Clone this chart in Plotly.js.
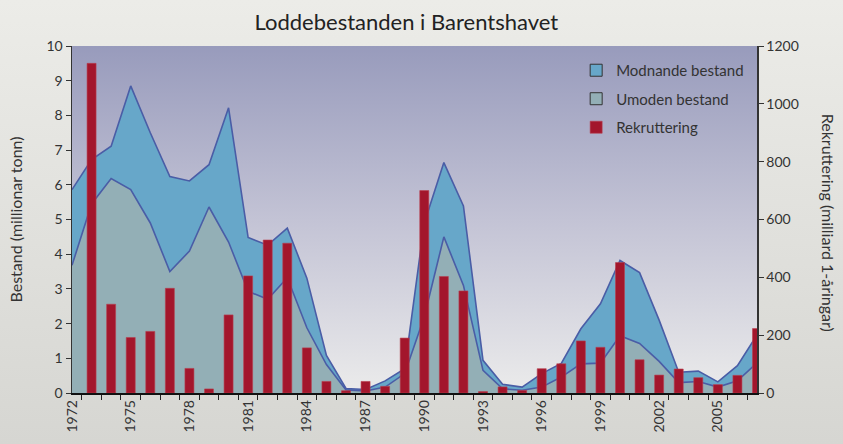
<!DOCTYPE html>
<html>
<head>
<meta charset="utf-8">
<script src="https://cdn.plot.ly/plotly-3.0.1.min.js"></script>
<style>
  html, body { margin: 0; padding: 0; }
  body { width: 843px; height: 444px; background: linear-gradient(#ecece8, #d6d6d2); overflow: hidden; }
  #chart { width: 843px; height: 444px; }
</style>
</head>
<body>
<div id="chart"></div>
<script>
// ---- data ----
const years = [1972,1973,1974,1975,1976,1977,1978,1979,1980,1981,1982,1983,1984,1985,1986,1987,1988,1989,
               1990,1991,1992,1993,1994,1995,1996,1997,1998,1999,2000,2001,2002,2003,2004,2005,2006,2007];
// Umoden bestand (million tonn)
const umoden = [3.68,5.45,6.18,5.86,4.90,3.50,4.09,5.36,4.35,2.93,2.70,3.32,1.88,0.82,0.09,0.06,0.17,0.56,
                2.20,4.50,3.10,0.65,0.12,0.08,0.17,0.46,0.84,0.86,1.65,1.43,0.91,0.30,0.33,0.17,0.35,0.87];
// Modnande bestand (million tonn), stacked on top of umoden
const modnande = [2.18,1.28,0.93,2.99,2.60,2.74,2.02,1.22,3.87,1.55,1.56,1.43,1.43,0.26,0.04,0.04,0.18,0.14,
                  2.70,2.14,2.29,0.29,0.13,0.09,0.39,0.39,1.01,1.71,2.17,2.04,1.19,0.30,0.30,0.15,0.44,0.80];
// Rekruttering (milliard 1-åringar)
const rekruttering = [null,1140,307,192,213,362,85,14,270,405,529,518,156,40,8,40,23,190,
                      700,403,353,5,21,9,84,101,180,158,451,115,62,83,53,29,61,223];
const xTickYears = [1972,1975,1978,1981,1984,1987,1990,1993,1996,1999,2002,2005];

const FONT = 'Lato, "Open Sans", sans-serif';
const lineCol = '#4a5da6';
const modCol = '#67a7c9';
const umoCol = '#93afb6';
const barCol = '#a3162c';

const traces = [
  { x: years, y: umoden, type: 'scatter', mode: 'lines', stackgroup: 'b', name: 'Umoden bestand',
    line: { color: lineCol, width: 1.6 }, fillcolor: umoCol, showlegend: false, hoverinfo: 'skip' },
  { x: years, y: modnande, type: 'scatter', mode: 'lines', stackgroup: 'b', name: 'Modnande bestand',
    line: { color: lineCol, width: 1.6 }, fillcolor: modCol, showlegend: false, hoverinfo: 'skip' },
  // legend proxies (no visible marks)
  { x: [null], y: [null], type: 'bar', yaxis: 'y2', name: 'Modnande bestand', legendgroup: 'a',
    marker: { color: modCol, line: { color: '#333', width: 1 } }, hoverinfo: 'skip' },
  { x: [null], y: [null], type: 'bar', yaxis: 'y2', name: 'Umoden bestand', legendgroup: 'b',
    marker: { color: umoCol, line: { color: '#333', width: 1 } }, hoverinfo: 'skip' },
  { x: years, y: rekruttering, type: 'bar', yaxis: 'y2', name: 'Rekruttering', legendgroup: 'c',
    width: 0.46, marker: { color: barCol, line: { color: '#b8404f', width: 0.6 } }, hoverinfo: 'skip' }
];

const gradSvg = '<svg xmlns="http://www.w3.org/2000/svg" width="100" height="100" preserveAspectRatio="none">' +
  '<defs><linearGradient id="g" x1="0" y1="0" x2="0" y2="1">' +
  '<stop offset="0" stop-color="#989bbc"/><stop offset="0.5" stop-color="#c3c3d5"/><stop offset="1" stop-color="#ebebeb"/>' +
  '</linearGradient></defs><rect width="100" height="100" fill="url(#g)"/></svg>';

const layout = {
  width: 843, height: 444,
  paper_bgcolor: 'rgba(0,0,0,0)',
  plot_bgcolor: 'rgba(0,0,0,0)',
  margin: { l: 72, r: 86, t: 46, b: 51, pad: 0 },
  font: { family: FONT, color: '#333', size: 13 },
  title: { text: 'Loddebestanden i Barentshavet', font: { family: FONT, size: 22, color: '#222' },
           x: 0.482, xref: 'container', xanchor: 'center', y: 0.95, yref: 'container', yanchor: 'middle' },
  barmode: 'overlay',
  showlegend: true,
  legend: { x: 0.736, y: 0.977, xanchor: 'left', yanchor: 'top', bgcolor: 'rgba(0,0,0,0)',
            font: { family: FONT, size: 15, color: '#333' }, traceorder: 'grouped', tracegroupgap: 6 },
  xaxis: {
    range: [1972, 2007], tickmode: 'array', tickvals: xTickYears, ticktext: xTickYears.map(String),
    tickangle: -90, ticks: '', showgrid: false, zeroline: false,
    showline: true, linecolor: '#111', linewidth: 1.5,
    tickfont: { family: FONT, size: 14, color: '#333' }, automargin: false,
    minor: { tick0: 1972.5, dtick: 1, ticks: 'outside', ticklen: 5, tickcolor: '#222', tickwidth: 1, showgrid: false }
  },
  yaxis: {
    range: [0, 10], dtick: 1, ticks: 'outside', ticklen: 5, tickcolor: '#333',
    showgrid: false, zeroline: false, showline: true, linecolor: '#333', linewidth: 1.5,
    tickfont: { family: FONT, size: 14, color: '#333' }, automargin: false,
    title: { text: 'Bestand (millionar tonn)', font: { family: FONT, size: 16, color: '#333' }, standoff: 20 }
  },
  yaxis2: {
    range: [0, 1200], dtick: 200, overlaying: 'y', side: 'right', ticks: 'outside', ticklen: 5, tickcolor: '#333',
    showgrid: false, zeroline: false, showline: true, linecolor: '#333', linewidth: 1.5,
    tickfont: { family: FONT, size: 14, color: '#333' }, automargin: false
  },
  annotations: [
    { text: 'Rekruttering (milliard 1-åringar)', textangle: 90, xref: 'paper', yref: 'paper',
      x: 1.104, y: 0.49, xanchor: 'center', yanchor: 'middle', showarrow: false,
      font: { family: FONT, size: 16, color: '#333' } }
  ],
  images: [
    { source: 'data:image/svg+xml;charset=utf-8,' + encodeURIComponent(gradSvg),
      xref: 'paper', yref: 'paper', x: 0, y: 1, sizex: 1, sizey: 1, sizing: 'stretch',
      xanchor: 'left', yanchor: 'top', layer: 'below' }
  ]
};

Plotly.newPlot('chart', traces, layout, { displayModeBar: false, staticPlot: true });
</script>
</body>
</html>
